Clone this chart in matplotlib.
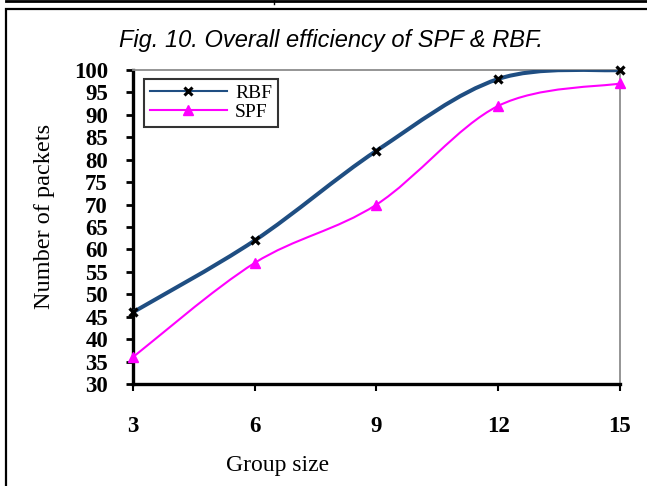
import numpy as np
import matplotlib
matplotlib.use("Agg")
import matplotlib.pyplot as plt
from matplotlib.path import Path
from matplotlib.patches import PathPatch, Rectangle
from matplotlib.lines import Line2D

# data
group_size = [3, 6, 9, 12, 15]
rbf = [46, 62, 82, 98, 100]
spf = [36, 57, 70, 92, 97]
y_ticks = list(range(30, 101, 5))

RBF_COLOR = "#1f4e82"
SPF_COLOR = "#ff00ff"
SERIF = ["Liberation Serif", "DejaVu Serif"]


def smooth_path(x, y):
    """Excel-like smoothed line: cubic bezier through the points (catmull-rom style)"""
    pts = list(zip(x, y))
    verts = [pts[0]]
    codes = [Path.MOVETO]
    n = len(pts)
    for i in range(n - 1):
        p0 = pts[i - 1] if i > 0 else pts[i]
        p1 = pts[i]
        p2 = pts[i + 1]
        p3 = pts[i + 2] if i + 2 < n else pts[i + 1]
        c1 = (p1[0] + (p2[0] - p0[0]) / 6.0, p1[1] + (p2[1] - p0[1]) / 6.0)
        c2 = (p2[0] - (p3[0] - p1[0]) / 6.0, p2[1] - (p3[1] - p1[1]) / 6.0)
        verts += [c1, c2, p2]
        codes += [Path.CURVE4] * 3
    return Path(verts, codes)


fig = plt.figure(figsize=(6.47, 4.86), dpi=100)
ax = fig.add_axes([133 / 647, 1 - 384 / 486, 487 / 647, 314 / 486])

# smooth lines
ax.add_patch(PathPatch(smooth_path(group_size, rbf), facecolor="none",
                       edgecolor=RBF_COLOR, lw=2.9, zorder=3))
ax.add_patch(PathPatch(smooth_path(group_size, spf), facecolor="none",
                       edgecolor=SPF_COLOR, lw=1.5, zorder=3))

# markers
ax.plot(group_size, rbf, ls="none", marker="x", ms=6, mew=2.3,
        color="black", zorder=5, clip_on=False)
ax.plot(group_size, spf, ls="none", marker="^", ms=7.5, color=SPF_COLOR,
        zorder=5, clip_on=False)

ax.set_xlim(3, 15)
ax.set_ylim(30, 100)
ax.set_xticks(group_size)
ax.set_yticks(y_ticks)
ax.set_xticklabels([str(v) for v in group_size], fontfamily=SERIF,
                   fontweight="bold", fontsize=16.5)
ax.set_yticklabels([str(v) for v in y_ticks], fontfamily=SERIF,
                   fontweight="bold", fontsize=16.5)
ax.tick_params(axis="x", direction="out", length=5, width=1.5, pad=18)
ax.tick_params(axis="y", direction="out", length=5, width=2, pad=13)

for s in ["left", "bottom"]:
    ax.spines[s].set_linewidth(2.4)
    ax.spines[s].set_color("black")
for s in ["top", "right"]:
    ax.spines[s].set_linewidth(1.3)
    ax.spines[s].set_color("#8c8c8c")

fig.text(278 / 647, 1 - 465 / 486, "Group size", fontfamily=SERIF,
         fontsize=17, ha="center", va="center")
fig.text(45 / 647, 1 - 216 / 486, "Number of packets", fontfamily=SERIF,
         fontsize=17.5, ha="center", va="center", rotation=90)

fig.text(331 / 647, 1 - 40 / 486, "Fig. 10. Overall efficiency of SPF & RBF.",
         fontfamily=["Liberation Sans", "DejaVu Sans"], fontstyle="italic",
         fontsize=17, ha="center", va="center")

handles = [
    Line2D([], [], color=RBF_COLOR, lw=1.5, marker="x", ms=5.5, mew=2.2,
           mec="black"),
    Line2D([], [], color=SPF_COLOR, lw=1.5, marker="^", ms=7.5, mfc=SPF_COLOR,
           mec=SPF_COLOR),
]
leg = ax.legend(handles, ["RBF", "SPF"], loc="upper left",
                bbox_to_anchor=(0.022, 0.972), borderaxespad=0,
                frameon=True, fancybox=False, handlelength=4.0,
                handletextpad=0.4, labelspacing=0.05, borderpad=0.3,
                prop={"family": SERIF, "size": 14})
leg.get_frame().set_edgecolor("black")
leg.get_frame().set_linewidth(1.5)

# outer border of the figure box and the strip at the very top
fig.add_artist(Rectangle((6 / 647, -0.05), 1.0, 1 - 9 / 486 + 0.05,
                         transform=fig.transFigure, fill=False,
                         edgecolor="black", lw=1.6))
fig.add_artist(Line2D([6 / 647, 1], [1 - 1 / 486, 1 - 1 / 486],
                      transform=fig.transFigure, color="black", lw=2))
fig.add_artist(Line2D([274 / 647, 274 / 647], [1, 1 - 4 / 486],
                      transform=fig.transFigure, color="black", lw=1))

fig.savefig("out.png", dpi=100)
